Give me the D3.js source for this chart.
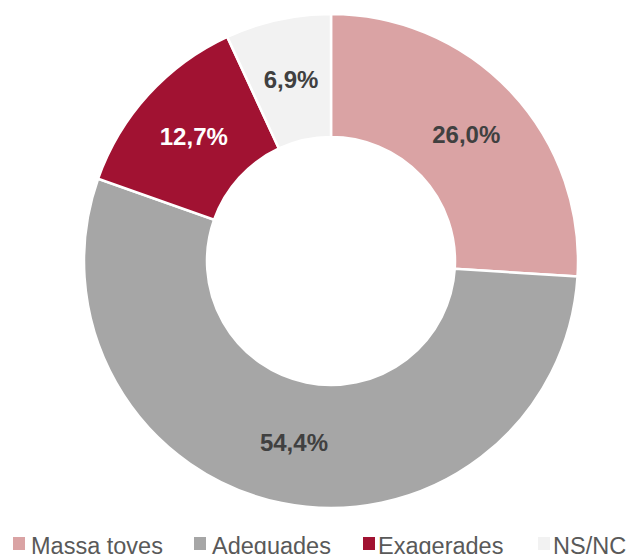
<!DOCTYPE html>
<html>
<head>
<meta charset="utf-8">
<script src="https://cdn.jsdelivr.net/npm/d3@7"></script>
<style>
  body { margin: 0; background: #fff; }
  svg { display: block; font-family: "Liberation Sans", Arial, sans-serif; }
</style>
</head>
<body>
<div class="diagram"></div>
<script>
var categories = ['Massa toves', 'Adequades', 'Exagerades', 'NS/NC'];
var values = [26.0, 54.4, 12.7, 6.9];
var colors = ['#DAA3A4', '#A6A6A6', '#A11232', '#F2F2F2'];
var labelColors = ['#404040', '#404040', '#ffffff', '#404040'];

var width = 629, height = 554;
var cx = 331, cy = 261, outerR = 247, innerR = 124;

var svg = d3.select('.diagram')
	.append('svg')
	.attr('width', width)
	.attr('height', height);

var data = categories.map(function(c, i) { return { name: c, value: values[i], i: i }; });

var pie = d3.pie().sort(null).value(function(d) { return d.value; });
var arc = d3.arc().innerRadius(innerR).outerRadius(outerR);

var g = svg.append('g').attr('transform', 'translate(' + cx + ',' + cy + ')');

var slices = g.selectAll('.slice')
	.data(pie(data))
	.enter().append('g')
	.attr('class', 'slice');

slices.append('path')
	.attr('d', arc)
	.attr('fill', function(d) { return colors[d.data.i]; })
	.attr('stroke', 'white')
	.attr('stroke-width', 2.5);

slices.append('text')
	.attr('transform', function(d) { return 'translate(' + arc.centroid(d) + ')'; })
	.attr('text-anchor', 'middle')
	.attr('dy', '0.36em')
	.attr('font-size', 24)
	.attr('font-weight', 'bold')
	.attr('fill', function(d) { return labelColors[d.data.i]; })
	.text(function(d) { return d3.format('.1f')(d.data.value).replace('.', ',') + '%'; });

// legend (bottom, cut by the frame edge like the original)
var swatchX = [13, 194, 363, 538];
var textX = [31, 212, 378, 553];
var legend = svg.append('g')
	.attr('class', 'legend')
	.selectAll('.item')
	.data(data)
	.enter().append('g')
	.attr('class', 'item');

legend.append('rect')
	.attr('x', function(d, i) { return swatchX[i]; })
	.attr('y', 537)
	.attr('width', 12)
	.attr('height', 13)
	.attr('fill', function(d) { return colors[d.i]; });

legend.append('text')
	.attr('x', function(d, i) { return textX[i]; })
	.attr('y', 554)
	.attr('font-size', 23.5)
	.attr('fill', '#595959')
	.text(function(d) { return d.name; });
</script>
</body>
</html>
